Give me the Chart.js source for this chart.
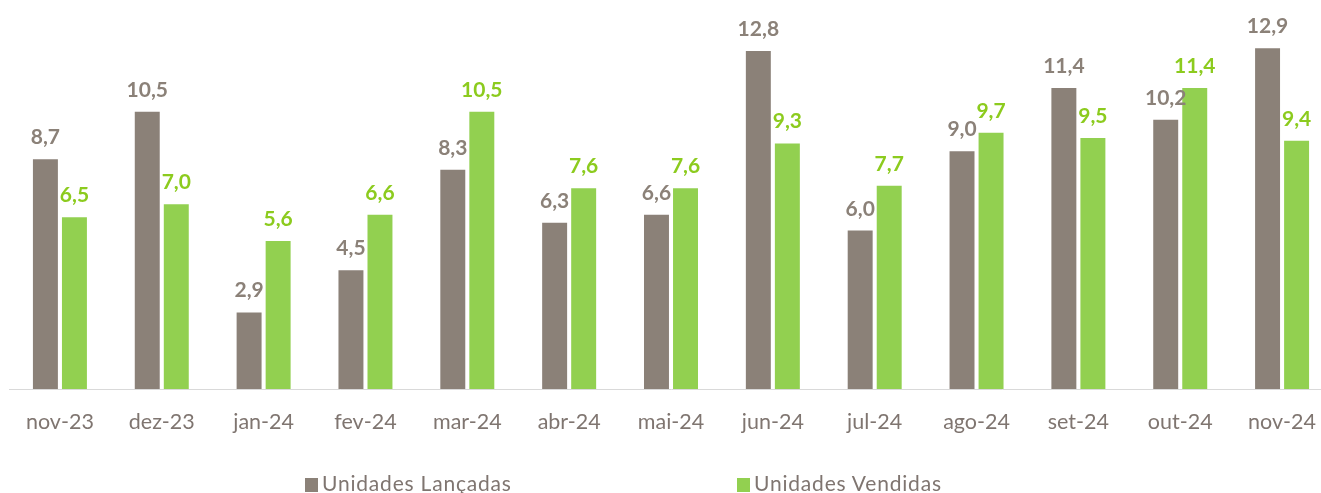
<!DOCTYPE html>
<html>
<head>
<meta charset="utf-8">
<script src="https://cdn.jsdelivr.net/npm/chart.js@4/dist/chart.umd.min.js"></script>
<style>
  html, body { margin: 0; padding: 0; background: #fff; overflow: hidden; }
  #wrap { position: relative; width: 1342px; height: 493px; }
  .legend { position: absolute; top: 470px; font: 21px Lato, "Open Sans", sans-serif; letter-spacing: 0.8px; color: #7F7570; white-space: nowrap; line-height: 26px; }
  .legend span.box { display: inline-block; width: 13px; height: 14px; margin-right: 4px; vertical-align: -1px; }
</style>
</head>
<body>
<div id="wrap">
  <canvas id="chart" width="1342" height="493"></canvas>
  <div class="legend" style="left:305px"><span class="box" style="background:#8B8178"></span>Unidades Lançadas</div>
  <div class="legend" style="left:737px"><span class="box" style="background:#92D050"></span>Unidades Vendidas</div>
</div>
<script>
const months = ["nov-23", "dez-23", "jan-24", "fev-24", "mar-24", "abr-24", "mai-24",
                "jun-24", "jul-24", "ago-24", "set-24", "out-24", "nov-24"];
const lancadas = [8.7, 10.5, 2.9, 4.5, 8.3, 6.3, 6.6, 12.8, 6.0, 9.0, 11.4, 10.2, 12.9];
const vendidas = [6.5, 7.0, 5.6, 6.6, 10.5, 7.6, 7.6, 9.3, 7.7, 9.7, 9.5, 11.4, 9.4];

const GRAY = '#8B8178';
const GREEN = '#92D050';
const LABEL_COLORS = ['#8B8178', '#8CCB1E'];

// values above each bar, comma decimal
const valueLabels = {
  id: 'valueLabels',
  afterDatasetsDraw(chart) {
    const ctx = chart.ctx;
    ctx.save();
    ctx.font = 'bold 21px Lato, "Open Sans", sans-serif';
    ctx.textAlign = 'center';
    ctx.textBaseline = 'alphabetic';
    chart.data.datasets.forEach((ds, di) => {
      const meta = chart.getDatasetMeta(di);
      ctx.fillStyle = LABEL_COLORS[di];
      meta.data.forEach((bar, i) => {
        const txt = ds.data[i].toFixed(1).replace('.', ',');
        ctx.fillText(txt, bar.x, bar.y - 15);
      });
    });
    ctx.restore();
  }
};

new Chart(document.getElementById('chart'), {
  type: 'bar',
  data: {
    labels: months,
    datasets: [
      { label: 'Unidades Lançadas', data: lancadas, backgroundColor: GRAY },
      { label: 'Unidades Vendidas', data: vendidas, backgroundColor: GREEN }
    ]
  },
  options: {
    responsive: false,
    animation: false,
    layout: { padding: { left: 9, right: 9, top: 0, bottom: 0 } },
    datasets: { bar: { categoryPercentage: 0.57, barPercentage: 0.86 } },
    plugins: { legend: { display: false }, tooltip: { enabled: false } },
    scales: {
      x: {
        grid: { display: false, drawTicks: false },
        border: { display: true, color: '#D9D9D9', width: 1 },
        ticks: { color: '#7F7570', padding: 20, font: { family: 'Lato, "Open Sans", sans-serif', size: 21.5 }, maxRotation: 0 },
        afterFit(scale) { scale.height = 104; }
      },
      y: { display: false, min: 0, max: 14.73 }
    }
  },
  plugins: [valueLabels]
});
</script>
</body>
</html>
